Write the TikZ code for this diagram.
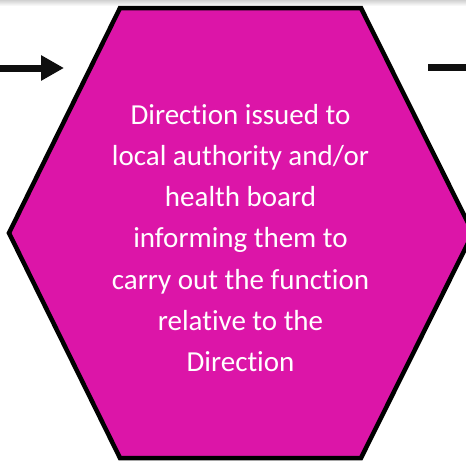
\documentclass[tikz,border=0pt]{standalone}
\usepackage{fontspec}
\setmainfont{Carlito}[Ligatures=NoCommon]
\usetikzlibrary{arrows.meta}
\definecolor{hexfill}{RGB}{220,21,168}
\definecolor{inkblack}{RGB}{15,15,15}
\tikzset{
  hexstep/.style={draw=black, line width=4.5pt, fill=hexfill, line join=miter},
  flowarrow/.style={draw=inkblack, line width=7pt, -{Triangle[length=23pt,width=24pt]}},
  flowline/.style={draw=inkblack, line width=7pt},
  steptext/.style={text=white, align=center, font=\fontsize{29}{41.1}\selectfont, inner sep=0pt}
}
\begin{document}
\begin{tikzpicture}[x=1pt,y=-1pt]
  \useasboundingbox (0,0) rectangle (466,461);
  \clip (0,0) rectangle (466,461);
  % faint shadow along the top edge
  \shade[top color=black!18, bottom color=white] (0,0) rectangle (466,6);
  % hexagon corners
  \coordinate (tl) at (120,8);
  \coordinate (tr) at (361,8);
  \coordinate (rr) at (473,233);
  \coordinate (br) at (361,458);
  \coordinate (bl) at (120,458);
  \coordinate (ll) at (9,233);
  \path[hexstep] (tl) -- (tr) -- (rr) -- (br) -- (bl) -- (ll) -- cycle;
  \node[steptext] (label) at (240.5,238) {Direction issued to\\local authority and/or\\health board\\informing them to\\carry out the function\\relative to the\\Direction};
  % incoming and outgoing connectors
  \coordinate (inStart) at (-2,68);
  \coordinate (inEnd) at (64,68);
  \coordinate (outStart) at (428,67);
  \coordinate (outEnd) at (480,67);
  \draw[flowarrow] (inStart) -- (inEnd);
  \draw[flowline] (outStart) -- (outEnd);
\end{tikzpicture}
\end{document}
